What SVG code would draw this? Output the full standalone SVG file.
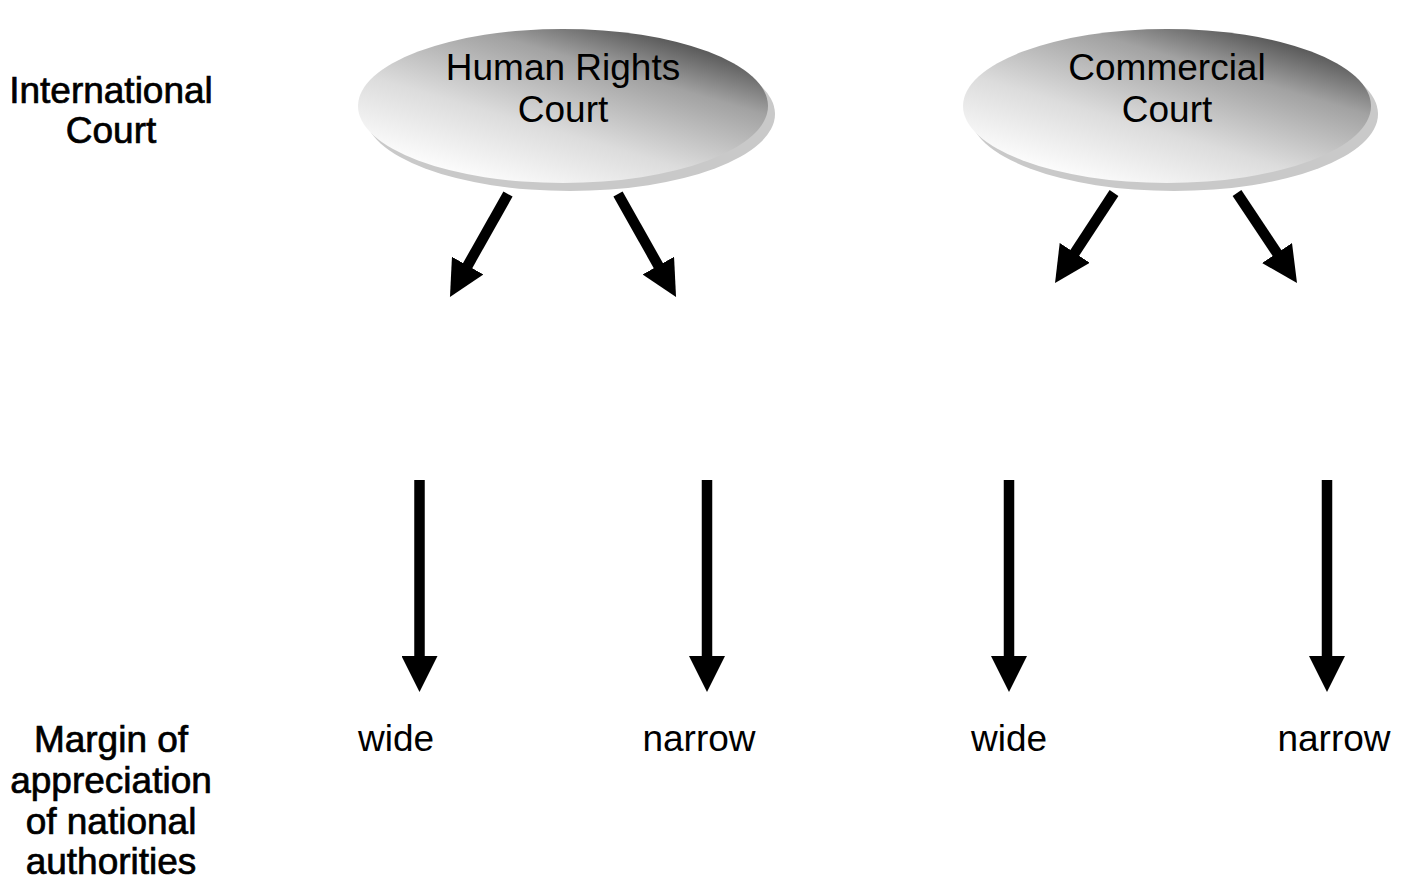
<svg xmlns="http://www.w3.org/2000/svg" width="1407" height="881" viewBox="0 0 1407 881">
<style>
.t{font-family:"Liberation Sans",Arial,sans-serif;font-size:37px;fill:#000;text-anchor:middle}
.lbl{stroke:#000;stroke-width:0.7}
.shadow{fill:#c9c9c9}
.court{fill:url(#g)}
.arr{stroke:#000;stroke-width:10.5;fill:none;marker-end:url(#ah)}
</style>
<defs>
<linearGradient id="g" x1="0.2" y1="0.95" x2="0.9" y2="0.05">
<stop offset="0" stop-color="#ffffff"/>
<stop offset="0.35" stop-color="#dcdcdc"/>
<stop offset="0.7" stop-color="#a2a2a2"/>
<stop offset="1" stop-color="#3c3c3c"/>
</linearGradient>
<marker id="ah" markerUnits="userSpaceOnUse" markerWidth="36" markerHeight="36" refX="18" refY="18" orient="auto" viewBox="0 0 36 36">
<path d="M0,0 L36,18 L0,36 z" fill="#000"/>
</marker>
</defs>
<rect width="1407" height="881" fill="#fff"/>
<g id="label-international">
<text class="t lbl" x="111" y="103">International</text>
<text class="t lbl" x="111" y="143">Court</text>
</g>
<g id="label-margin">
<text class="t lbl" x="111" y="752">Margin of</text>
<text class="t lbl" x="111" y="793">appreciation</text>
<text class="t lbl" x="111" y="834">of national</text>
<text class="t lbl" x="111" y="874">authorities</text>
</g>
<g id="node-human-rights">
<ellipse class="shadow" cx="570" cy="114" rx="205" ry="77"/>
<ellipse class="court" cx="563" cy="106" rx="205" ry="77"/>
<text class="t" x="563" y="80">Human Rights</text>
<text class="t" x="563" y="122">Court</text>
</g>
<g id="node-commercial">
<ellipse class="shadow" cx="1174" cy="114" rx="204" ry="77"/>
<ellipse class="court" cx="1167" cy="106" rx="204" ry="77"/>
<text class="t" x="1167" y="80">Commercial</text>
<text class="t" x="1167" y="122">Court</text>
</g>
<g id="node-wide-1"><text class="t" x="396" y="751">wide</text></g>
<g id="node-narrow-1"><text class="t" x="699" y="751">narrow</text></g>
<g id="node-wide-2"><text class="t" x="1009" y="751">wide</text></g>
<g id="node-narrow-2"><text class="t" x="1334" y="751">narrow</text></g>
<g id="connectors">
<line class="arr" x1="508" y1="194" x2="458.8" y2="281.3"/>
<line class="arr" x1="618" y1="194" x2="667.2" y2="281.3"/>
<line class="arr" x1="1114" y1="193" x2="1064.9" y2="267.9"/>
<line class="arr" x1="1237" y1="193" x2="1287" y2="268"/>
<line class="arr" x1="419.5" y1="480" x2="419.5" y2="674"/>
<line class="arr" x1="707" y1="480" x2="707" y2="674"/>
<line class="arr" x1="1009" y1="480" x2="1009" y2="674"/>
<line class="arr" x1="1327" y1="480" x2="1327" y2="674"/>
</g>
</svg>
